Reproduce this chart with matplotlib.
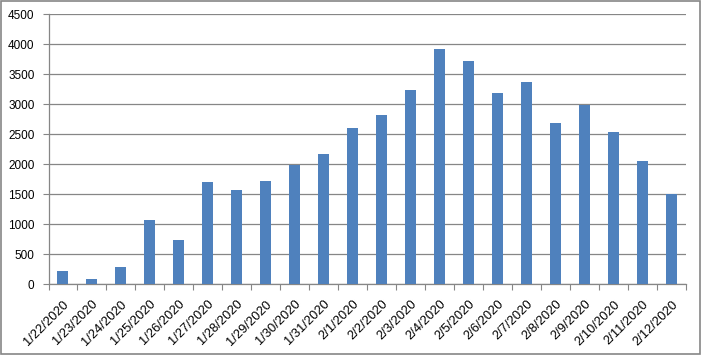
import matplotlib
matplotlib.use("Agg")
import matplotlib.pyplot as plt
import matplotlib.transforms as mtransforms
from matplotlib.patches import Rectangle

dates = ["1/22/2020", "1/23/2020", "1/24/2020", "1/25/2020", "1/26/2020", "1/27/2020",
         "1/28/2020", "1/29/2020", "1/30/2020", "1/31/2020", "2/1/2020", "2/2/2020",
         "2/3/2020", "2/4/2020", "2/5/2020", "2/6/2020", "2/7/2020", "2/8/2020",
         "2/9/2020", "2/10/2020", "2/11/2020", "2/12/2020"]
values = [222, 88, 288, 1072, 739, 1706, 1572, 1722, 1994, 2172, 2606, 2822,
          3239, 3922, 3722, 3189, 3372, 2689, 2994, 2539, 2056, 1506]
yticks = [0, 500, 1000, 1500, 2000, 2500, 3000, 3500, 4000, 4500]

plt.rcParams['font.family'] = ['Liberation Sans', 'DejaVu Sans']

fig = plt.figure(figsize=(7.01, 3.55), dpi=100)
fig.patches.append(Rectangle((0.001, 0.002), 0.997, 0.995, transform=fig.transFigure,
                             fill=False, edgecolor='#868686', linewidth=1.2))
ax = fig.add_axes([48.5/701, 1 - 284.3/355, (686 - 48.5)/701, (284.3 - 14.3)/355])

x = list(range(len(values)))
ax.bar(x, values, width=0.38, color='#4F81BD', zorder=3)
ax.set_xlim(-0.5, len(values) - 0.5)
ax.set_ylim(0, 4500)
ax.set_yticks(yticks)
ax.set_yticklabels([str(v) for v in yticks], fontsize=8.5)
ax.yaxis.grid(True, color='#868686', linewidth=0.9, zorder=0)
ax.set_xticks([i - 0.5 for i in range(len(values) + 1)])
ax.set_xticklabels([])
ax.set_xticks(x, minor=True)
labels = ax.set_xticklabels(dates, minor=True, rotation=45, ha='right', va='top',
                            rotation_mode='anchor', fontsize=9.3)
offset = mtransforms.ScaledTranslation(2.5/100, 0, fig.dpi_scale_trans)
for lab in labels:
    lab.set_transform(lab.get_transform() + offset)
ax.tick_params(axis='x', which='minor', length=0, pad=10)
ax.tick_params(axis='x', which='major', length=4, color='#868686', direction='out')
ax.tick_params(axis='y', length=4, color='#868686', direction='out', pad=6)
for s in ['top', 'right']:
    ax.spines[s].set_visible(False)
for s in ['left', 'bottom']:
    ax.spines[s].set_color('#868686')
    ax.spines[s].set_linewidth(0.9)

fig.savefig("out.png", dpi=100)
